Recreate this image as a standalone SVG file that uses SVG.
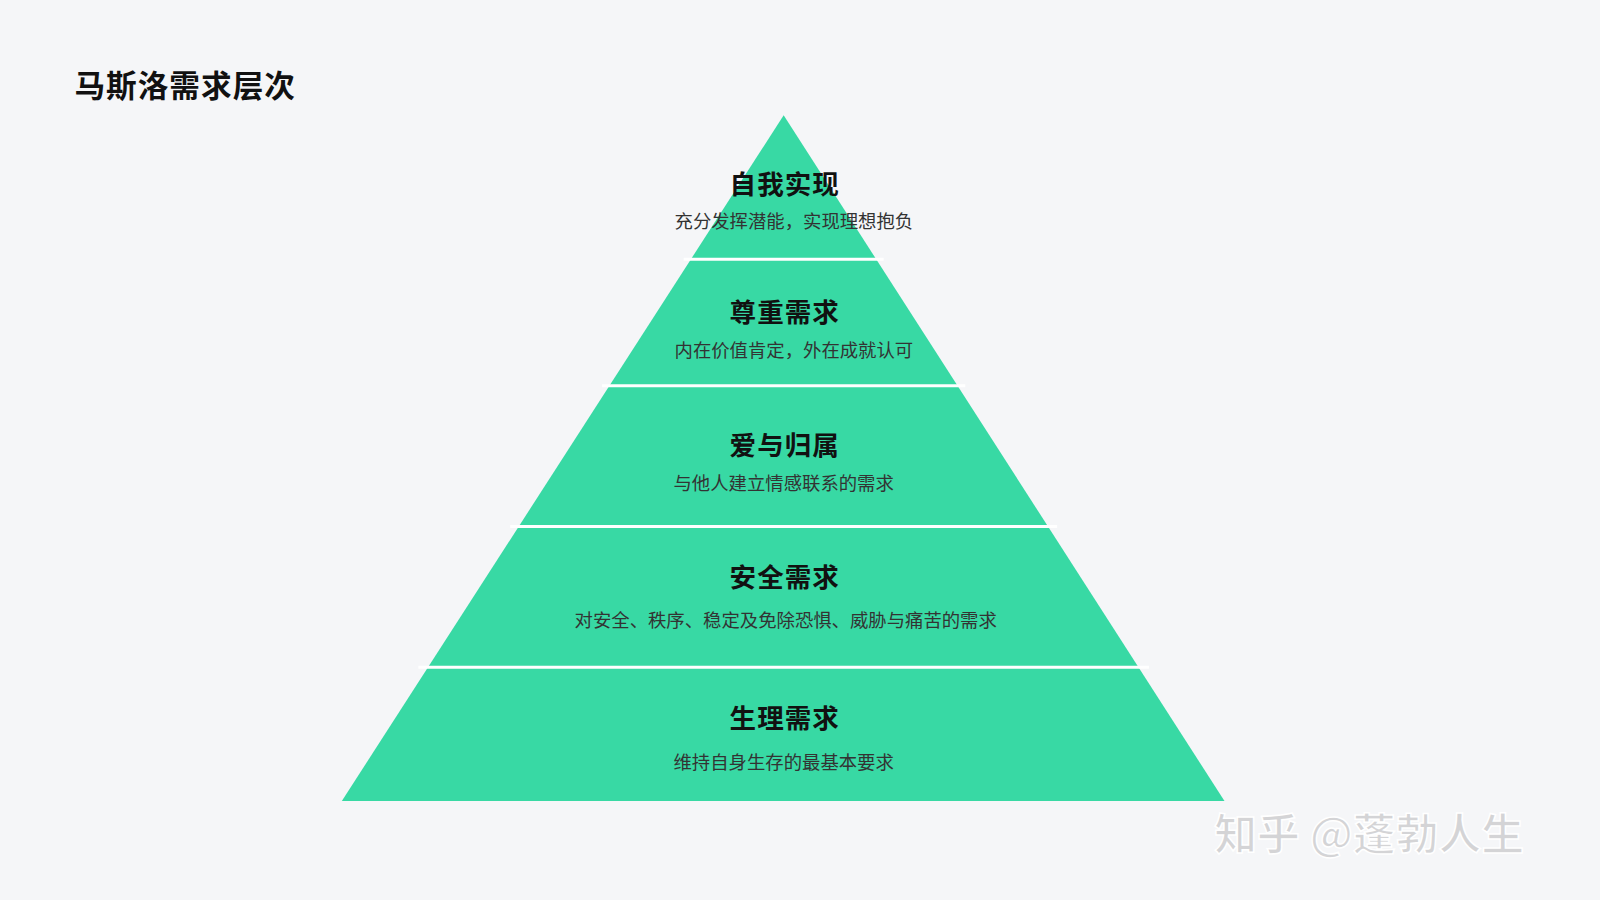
<svg xmlns="http://www.w3.org/2000/svg" width="1600" height="900" viewBox="0 0 1600 900">
<style>
.t{font-family:"Noto Sans CJK SC",sans-serif;font-weight:700;font-size:26px;fill:#111;text-anchor:middle;letter-spacing:1px}
.s{font-family:"Noto Sans CJK SC",sans-serif;font-size:18px;fill:#333;text-anchor:middle}
.sep{stroke:#fff;stroke-width:3}
</style>
<rect width="1600" height="900" fill="#f5f6f8"/>
<g transform="scale(1.0204)">
<text x="73" y="95" font-family="Noto Sans CJK SC,sans-serif" font-weight="700" font-size="30" fill="#111" letter-spacing="1">马斯洛需求层次</text>
<g id="pyramid"><polygon points="768,113 1200,785 335,785" fill="#38d9a4"/></g>
<g id="connectors">
<line class="sep" x1="670" y1="254" x2="866" y2="254"/>
<line class="sep" x1="590" y1="378" x2="946" y2="378"/>
<line class="sep" x1="500" y1="516" x2="1036" y2="516"/>
<line class="sep" x1="410" y1="654" x2="1126" y2="654"/>
</g>
<g id="n1"><text class="t" x="769" y="190">自我实现</text><text class="s" x="778" y="223">充分发挥潜能，实现理想抱负</text></g>
<g id="n2"><text class="t" x="769" y="316">尊重需求</text><text class="s" x="778" y="350">内在价值肯定，外在成就认可</text></g>
<g id="n3"><text class="t" x="769" y="446">爱与归属</text><text class="s" x="768" y="480">与他人建立情感联系的需求</text></g>
<g id="n4"><text class="t" x="769" y="575">安全需求</text><text class="s" x="770" y="614">对安全、秩序、稳定及免除恐惧、威胁与痛苦的需求</text></g>
<g id="n5"><text class="t" x="769" y="713">生理需求</text><text class="s" x="768" y="754">维持自身生存的最基本要求</text></g>
<text x="1190" y="833" font-family="Noto Sans CJK SC,sans-serif" font-weight="700" font-size="42" fill="#d4d4d6" stroke="#fff" stroke-width="1.5">知乎 @蓬勃人生</text>
</g>
</svg>
